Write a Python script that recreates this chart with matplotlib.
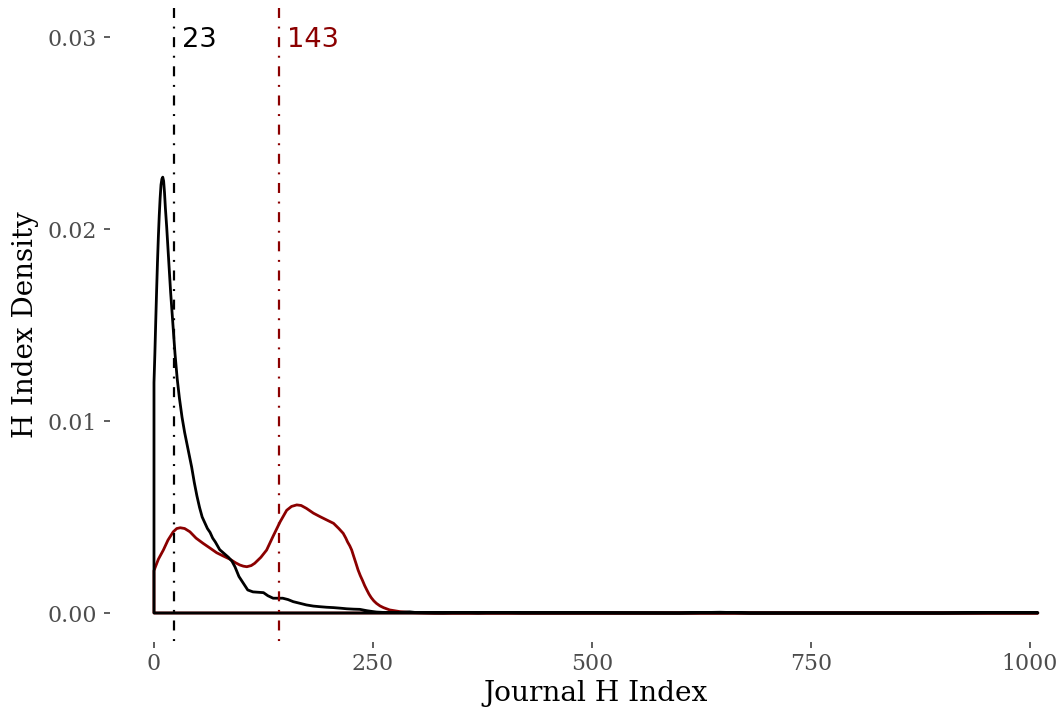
import matplotlib
matplotlib.use("Agg")
import matplotlib.pyplot as plt
from matplotlib.ticker import FixedLocator, FixedFormatter

# ---- data ----
black_x = [0, 1, 2, 3, 4, 5, 6, 7, 8, 9, 10, 11, 12, 13, 14.5, 17, 19, 21.5, 24, 26.5, 29,
           32, 35, 39, 43, 46, 49, 52, 55, 58, 61, 64, 67, 70, 75, 80, 85, 89, 92.5, 97,
           102, 107, 113, 119, 125, 130, 136, 142, 147, 153, 159, 167, 174, 182, 189, 197,
           205, 213, 220, 228, 235, 243, 249, 254, 262, 275, 292, 300, 330, 350, 370, 389,
           420, 500, 600, 646, 680, 900, 977, 1009]
black_y = [0.0120, 0.0135, 0.0152, 0.0168, 0.0183, 0.0196, 0.0207, 0.0216, 0.0223, 0.0226,
           0.0227, 0.0225, 0.0219, 0.0211, 0.0201, 0.0182, 0.0167, 0.0151, 0.0135, 0.0122,
           0.0112, 0.0102, 0.0094, 0.0085, 0.0076, 0.0068, 0.0061, 0.0055, 0.0050, 0.0047,
           0.0044, 0.0042, 0.0039, 0.0037, 0.0033, 0.0031, 0.0029, 0.0027, 0.0024, 0.0019,
           0.00155, 0.0012, 0.0011, 0.00108, 0.00106, 0.0009, 0.00077, 0.00077, 0.00077,
           0.0007, 0.00059, 0.0005, 0.00042, 0.00036, 0.00033, 0.0003, 0.00028, 0.00025,
           0.00022, 0.0002, 0.00019, 0.00012, 0.00008, 0.00005, 0.00003, 0.00002, 0.00006,
           0.00002, 0.00001, 0.00003, 0.00001, 0.00003, 0.00001, 0.00001, 0.0, 0.00004, 0.0,
           0.0, 0.00003, 0.00002]

red_x = [0, 1, 5, 10.7, 16, 22, 26, 30, 35, 41, 48, 56, 64, 71.5, 79, 86.8, 93, 98, 102,
         106, 111, 115, 122, 128.6, 136, 144, 151.5, 157, 163, 168, 174, 182, 189.5, 197,
         205, 211, 216, 219, 221, 223.5, 225.7, 228, 230.5, 233, 235.5, 238, 240.5, 243,
         245.5, 248, 251, 254, 258, 262, 269, 281, 295, 320, 1009]
red_y = [0.0022, 0.00233, 0.0028, 0.00328, 0.0038, 0.00423, 0.0044, 0.00444, 0.0044,
         0.00423, 0.0039, 0.00363, 0.00338, 0.00314, 0.00297, 0.0028, 0.00262, 0.0025,
         0.00244, 0.00241, 0.00247, 0.00259, 0.0029, 0.00328, 0.0040, 0.00475, 0.00535,
         0.00555, 0.00563, 0.0056, 0.00545, 0.0052, 0.00502, 0.00485, 0.00467, 0.0044,
         0.00415, 0.0039, 0.0037, 0.0035, 0.00328, 0.00295, 0.0026, 0.00224, 0.00195,
         0.0017, 0.00143, 0.0012, 0.00098, 0.0008, 0.00063, 0.0005, 0.00037, 0.00028,
         0.00016, 0.00007, 0.00002, 0.0, 0.0]

medians = [23, 143]
median_labels = ["23", "143"]
median_colors = ["black", "#8B0000"]

x_ticks = [0, 250, 500, 750, 1000]
x_ticklabels = ["0", "250", "500", "750", "1000"]
y_ticks = [0.0, 0.01, 0.02, 0.03]
y_ticklabels = ["0.00", "0.01", "0.02", "0.03"]

plt.rcParams['font.family'] = 'DejaVu Serif'
plt.rcParams['lines.scale_dashes'] = False

W, H = 1059, 709
fig = plt.figure(figsize=(W / 100, H / 100), dpi=100)
left_px, right_px, top_px, bot_px = 109.8, 1082.0, 8.2, 641.8
ax = fig.add_axes([left_px / W, (H - bot_px) / H, (right_px - left_px) / W, (bot_px - top_px) / H])

for xs, ys, col in [(red_x, red_y, "#8B0000"), (black_x, black_y, "black")]:
    px = [xs[0]] + list(xs) + [xs[-1]]
    py = [0.0] + list(ys) + [0.0]
    ax.fill(px, py, facecolor='none', edgecolor=col, linewidth=2.0, joinstyle='round')

for m, lab, col in zip(medians, median_labels, median_colors):
    ax.axvline(m, color=col, linewidth=1.6,
               linestyle=(12.7, (7.2, 6.2, 1.4, 6.2)))
    ax.text(m + 9, 0.02948, lab, color=col, family='DejaVu Sans', fontsize=19.6,
            ha='left', va='baseline')

ax.set_xlim(-50.45, 1059.45)
ax.set_ylim(-0.0015, 0.0315)

ax.xaxis.set_major_locator(FixedLocator(x_ticks))
ax.xaxis.set_major_formatter(FixedFormatter(x_ticklabels))
ax.yaxis.set_major_locator(FixedLocator(y_ticks))
ax.yaxis.set_major_formatter(FixedFormatter(y_ticklabels))

for s in ax.spines.values():
    s.set_visible(False)
ax.tick_params(axis='both', which='major', length=4.3, width=1.1, color='#333333',
               labelcolor='#4D4D4D', labelsize=15.8)
ax.tick_params(axis='x', pad=4)
ax.tick_params(axis='y', pad=5)

ax.set_xlabel("Journal H Index", fontsize=20.2, color='black')
ax.set_ylabel("H Index Density", fontsize=20.0, color='black')
ax.xaxis.set_label_coords(0.5, -0.060)
ax.yaxis.set_label_coords(-0.0725, 0.5)

fig.savefig("out.png", dpi=100, facecolor='white')
